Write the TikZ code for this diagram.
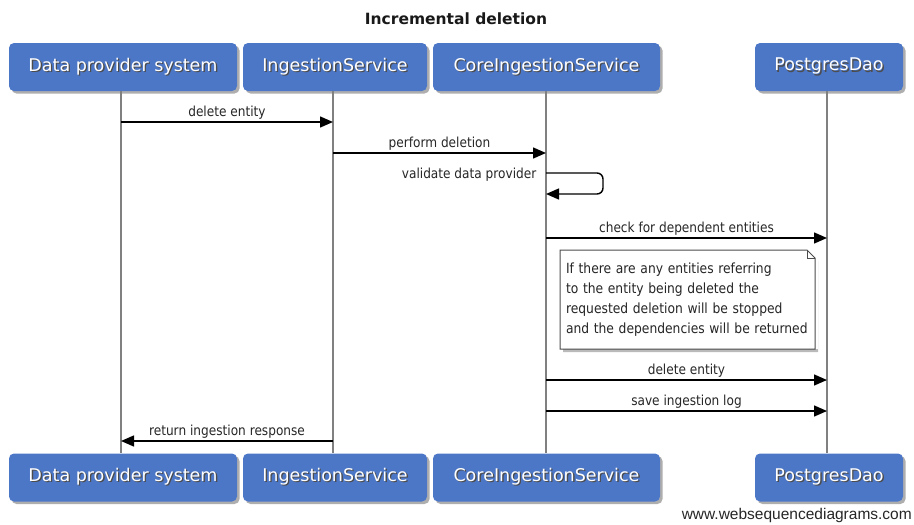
\documentclass[tikz,border=0pt]{standalone}
\usepackage{fontspec}
\setmainfont{DejaVu Sans}
\newfontfamily\msgfont[FakeStretch=0.88]{DejaVu Sans}
\newfontfamily\wmfont{Liberation Sans}
\usetikzlibrary{arrows.meta,shadows}
\definecolor{boxblue}{RGB}{76,119,199}
\definecolor{lifegray}{RGB}{128,128,128}
\newcommand\shtext[1]{\leavevmode\rlap{\hspace{1.3pt}\raisebox{-1.3pt}{\color{black!70}#1}}#1}
\tikzset{
  actor/.style={fill=boxblue, rounded corners=5pt, minimum height=48pt, text=white,
    font=\fontsize{17.5}{20}\selectfont, inner sep=0pt,
    drop shadow={shadow xshift=2.5pt, shadow yshift=-2.5pt, opacity=0.45, fill=black!70}},
  lifeline/.style={draw=lifegray, line width=1.3pt},
  msg/.style={-{Triangle[length=13pt,width=11pt]}, line width=1.4pt, black},
  msglabel/.style={font=\msgfont\fontsize{13.8}{15}\selectfont, inner sep=1.5pt, text=black!85},
}
\begin{document}
\begin{tikzpicture}[x=1pt,y=-1pt]
\useasboundingbox (0,0) rectangle (914,525);
\node[font=\bfseries\fontsize{15.5}{18}\selectfont, text=black!90] (title) at (456,19) {Incremental deletion};
% top actors
\node[actor, minimum width=228pt] (t1) at (123,67) {\shtext{Data provider system}};
\node[actor, minimum width=184pt] (t2) at (335,67) {\shtext{IngestionService}};
\node[actor, minimum width=227pt] (t3) at (546.5,67) {\shtext{CoreIngestionService}};
\node[actor, minimum width=148pt] (t4) at (829,67) {\shtext{PostgresDao}};
% bottom actors
\node[actor, minimum width=228pt] (b1) at (123,477.5) {\shtext{Data provider system}};
\node[actor, minimum width=184pt] (b2) at (335,477.5) {\shtext{IngestionService}};
\node[actor, minimum width=227pt] (b3) at (546.5,477.5) {\shtext{CoreIngestionService}};
\node[actor, minimum width=148pt] (b4) at (829,477.5) {\shtext{PostgresDao}};
% lifelines
\coordinate (l1t) at (121,91); \coordinate (l1b) at (121,453);
\coordinate (l2t) at (333,91); \coordinate (l2b) at (333,453);
\coordinate (l3t) at (546,91); \coordinate (l3b) at (546,453);
\coordinate (l4t) at (827,91); \coordinate (l4b) at (827,453);
\draw[lifeline] (l1t) -- (l1b);
\draw[lifeline] (l2t) -- (l2b);
\draw[lifeline] (l3t) -- (l3b);
\draw[lifeline] (l4t) -- (l4b);
% message coordinates
\coordinate (m1a) at (121,122); \coordinate (m1b) at (333,122);
\coordinate (m2a) at (333,153); \coordinate (m2b) at (546,153);
\coordinate (m3a) at (546,173); \coordinate (m3b) at (546,194);
\coordinate (m4a) at (546,238); \coordinate (m4b) at (827,238);
\coordinate (m5a) at (546,380); \coordinate (m5b) at (827,380);
\coordinate (m6a) at (546,411); \coordinate (m6b) at (827,411);
\coordinate (m7a) at (333,441); \coordinate (m7b) at (121,441);
\draw[msg] (m1a) -- node[msglabel, above] {delete entity} (m1b);
\draw[msg] (m2a) -- node[msglabel, above] {perform deletion} (m2b);
\draw[msg, rounded corners=6pt] (m3a) -- ++(57,0) |- (m3b);
\node[msglabel, anchor=east] (m3l) at (538,175) {validate data provider};
\draw[msg] (m4a) -- node[msglabel, above] {check for dependent entities} (m4b);
% note
\fill[black!45, opacity=0.6] (563,253) -- (810,253) -- (818,261) -- (818,352) -- (563,352) -- cycle;
\node[fill=white, minimum width=255pt, minimum height=99pt, text width=249pt, align=left,
  inner sep=0pt, font=\msgfont\fontsize{14}{20}\selectfont, text=black!85] (note) at (690.5,299.5)
  {If there are any entities referring\\to the entity being deleted the\\requested deletion will be stopped\\and the dependencies will be returned};
\draw[black!70, line width=1pt] (560,250) -- (807,250) -- (815,258) -- (815,349) -- (560,349) -- cycle;
\draw[black!70, line width=0.8pt] (807,250) |- (815,258);
\draw[msg] (m5a) -- node[msglabel, above] {delete entity} (m5b);
\draw[msg] (m6a) -- node[msglabel, above] {save ingestion log} (m6b);
\draw[msg] (m7a) -- node[msglabel, above] {return ingestion response} (m7b);
\node[font=\wmfont\fontsize{15.5}{17}\selectfont, anchor=east, inner sep=0pt, text=black!85] (wm) at (912,515) {www.websequencediagrams.com};
\end{tikzpicture}
\end{document}
